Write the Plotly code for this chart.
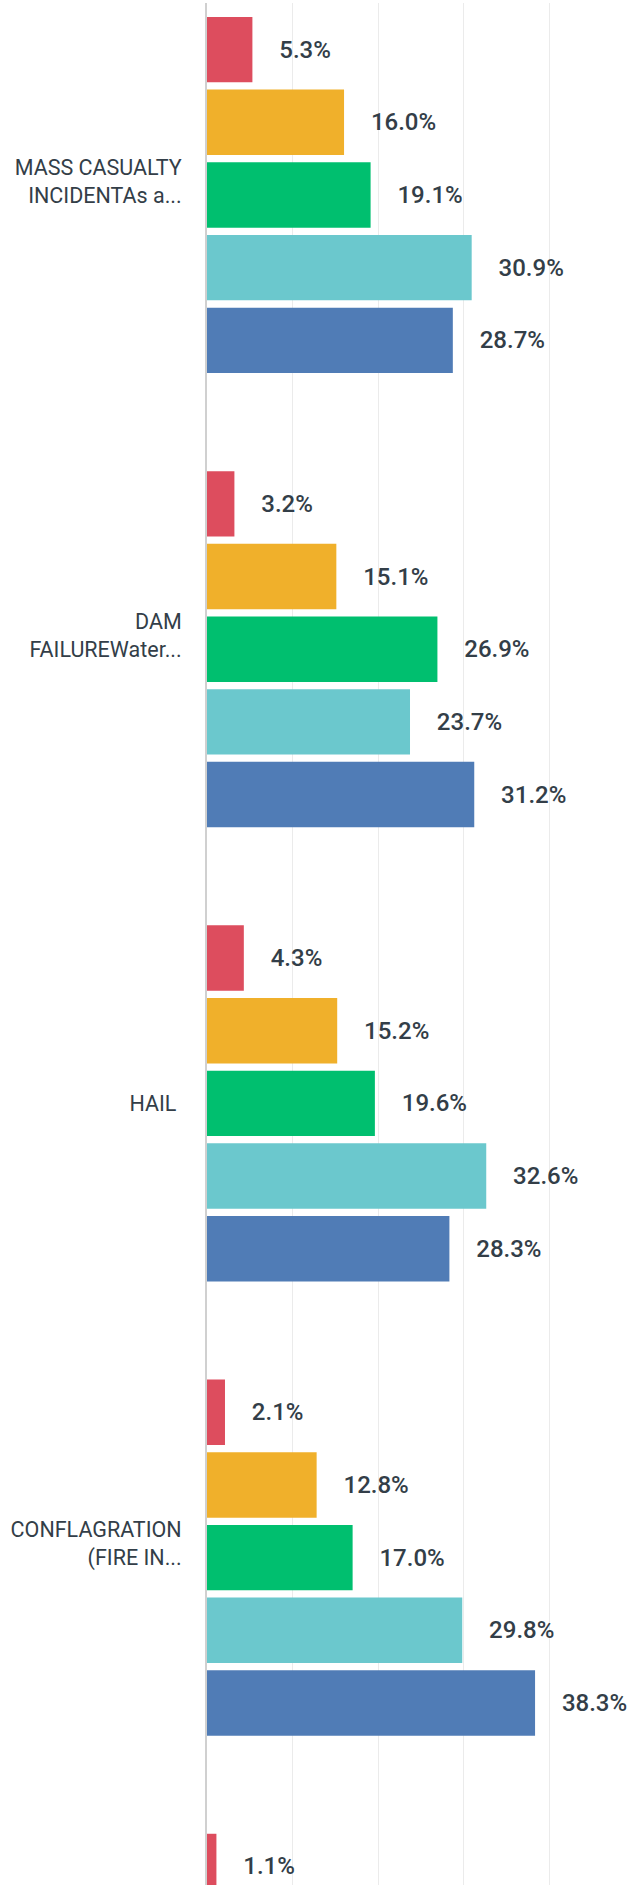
import plotly.graph_objects as go

categories = [
    "MASS CASUALTY<br>INCIDENTAs a...<br>\u00a0",
    "DAM<br>FAILUREWater...<br>\u00a0",
    "HAIL\u00a0",
    "CONFLAGRATION<br>(FIRE IN...<br>\u00a0",
    "\u00a0",
]
series_names = ["Series 1", "Series 2", "Series 3", "Series 4", "Series 5"]
series_colors = ["#DD4D5E", "#F0B02B", "#00BF6F", "#6BC8CD", "#507CB6"]
values_1 = [5.3, 3.2, 4.3, 2.1, 1.1]
values_2 = [16.0, 15.1, 15.2, 12.8, None]
values_3 = [19.1, 26.9, 19.6, 17.0, None]
values_4 = [30.9, 23.7, 32.6, 29.8, None]
values_5 = [28.7, 31.2, 28.3, 38.3, None]
all_values = [values_1, values_2, values_3, values_4, values_5]

W, H = 631, 1885
fig = go.Figure()
for name, color, vals in zip(series_names, series_colors, all_values):
    fig.add_trace(go.Bar(
        y=categories, x=vals, orientation="h", name=name,
        marker=dict(color=color, line=dict(width=0)),
        text=[("\u00a0\u00a0\u00a0\u00a0" + f"{v:.1f}%") if v is not None else "" for v in vals],
        textposition="outside", cliponaxis=False,
        textfont=dict(family="Roboto", size=24, color="#333E48", weight=500),
        hoverinfo="skip",
    ))

fig.update_layout(
    width=W, height=H,
    margin=dict(l=207, r=0, t=3, b=0),
    barmode="group", bargap=0.2, bargroupgap=0.1,
    showlegend=False,
    plot_bgcolor="white", paper_bgcolor="white",
)
fig.update_xaxes(
    range=[0, 49.5], showticklabels=False, zeroline=False,
    showgrid=True, gridcolor="#EBEBEB", gridwidth=1, dtick=10, tick0=0,
)
fig.update_yaxes(
    type="category", range=[3.7208, -0.4227],
    showline=True, linecolor="#D0D0D0", linewidth=2,
    showgrid=False, ticks="", ticklabelstandoff=19,
    tickfont=dict(family="Roboto", size=21.5, color="#333E48"),
)
fig.write_html(
    "out.html",
    config={"displayModeBar": False, "staticPlot": True},
    post_script="document.body.style.margin='0';document.body.style.overflow='hidden';",
)
